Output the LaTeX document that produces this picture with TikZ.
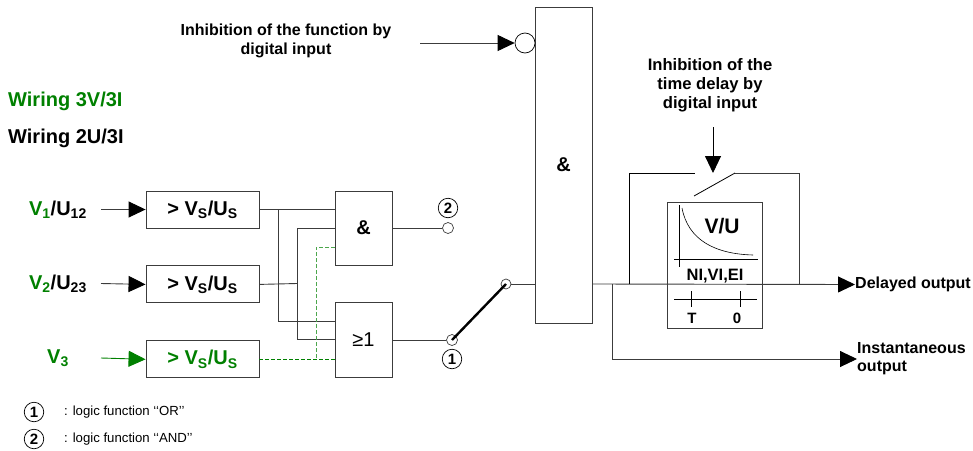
\documentclass[tikz,border=0pt]{standalone}
\usepackage{fontspec}
\setmainfont{Liberation Sans}
\usetikzlibrary{positioning, arrows.meta}
\definecolor{wirecol}{HTML}{3C3C3C}
\definecolor{vgreen}{HTML}{008000}

\begin{document}
\begin{tikzpicture}[
            x=1pt, y=-1pt,
            node distance=37pt and 76pt,
            box/.style={draw=wirecol, line width=0.9pt, minimum width=113pt, minimum height=37pt, inner sep=0pt, align=center, font=\fontsize{20}{22}\selectfont\bfseries},
            gate/.style={draw=wirecol, line width=0.9pt, minimum width=57pt, inner sep=0pt, align=center, font=\fontsize{20}{22}\selectfont\bfseries},
            dot/.style={draw=wirecol, circle, fill=white, line width=0.7pt, minimum size=11pt, inner sep=0pt},
            num/.style={draw=black, circle, line width=0.7pt, minimum size=19.5pt, inner sep=0pt, font=\fontsize{15}{15}\selectfont\bfseries},
            lbl/.style={font=\fontsize{16}{19}\selectfont\bfseries, align=center, inner sep=0pt},
            sig/.style={font=\fontsize{20}{22}\selectfont\bfseries, inner sep=0pt},
            small/.style={font=\fontsize{13.2}{15}\selectfont, anchor=west, inner sep=0pt},
            wire/.style={draw=wirecol, line width=0.9pt},
            arr/.style={wire, -{Triangle[length=17pt, width=16pt, black]}},
            greendash/.style={line width=1pt, dash pattern=on 4pt off 2pt}
        ]
            \useasboundingbox (0,0) rectangle (973,450);

            % Wiring titles
            \node[sig, anchor=west, text=vgreen] (wirea) at (8,101) {Wiring 3V/3I};
            \node[sig, anchor=west] (wireb) at (8,138) {Wiring 2U/3I};

            % Threshold boxes
            \node[box] (vsa) at (202.5,209.5) {> V\textsubscript{S}/U\textsubscript{S}};
            \node[box, below=of vsa] (vsb) {> V\textsubscript{S}/U\textsubscript{S}};
            \node[box, below=of vsb, text=vgreen] (vsc) {> V\textsubscript{S}/U\textsubscript{S}};

            % Inputs
            \node[sig, anchor=east] (va) at (87,210) {\textcolor{vgreen}{V\textsubscript{1}}/U\textsubscript{12}};
            \node[sig, anchor=east] (vb) at (87,284) {\textcolor{vgreen}{V\textsubscript{2}}/U\textsubscript{23}};
            \node[sig, text=vgreen] (vc) at (58,358) {V\textsubscript{3}};
            \coordinate (ina) at (101,209.5);
            \coordinate (inb) at (101,283.5);
            \coordinate (inc) at (101,358);
            \draw[arr] (ina) -- (vsa.west);
            \draw[arr] (inb) -- (vsb.west);
            \draw[draw=vgreen, line width=0.9pt, -{Triangle[length=17pt, width=16pt, vgreen]}] (inc) -- (vsc.west);

            % AND / OR gates
            \node[gate, minimum height=74pt] (andgate) at (363.5,228) {\&};
            \node[gate, minimum height=75pt] (orgate) at (363.5,339.5) {\mdseries ≥1};

            \coordinate (joina) at (278,209.5);
            \coordinate (joinb) at (297,283.5);
            \coordinate (joinc) at (316,358);
            \draw[wire] (vsa.east) -- (vsa.east -| andgate.west);
            \draw[wire] (vsb.east) -- (joinb);
            \draw[wire] (joina) |- (orgate.west |- 0,321);
            \draw[wire] (joinb |- andgate.west) -- (andgate.west);
            \draw[wire] (joinb |- andgate.west) -- (joinb |- orgate.west) -- (orgate.west);
            \draw[greendash, vgreen] (vsc.east) -- (vsc.east -| orgate.west);
            \draw[greendash, vgreen!70] (joinc) |- (andgate.west |- 0,247);

            % Selector
            \node[dot] (swand) at (448,228) {};
            \node[dot] (swor) at (452,340) {};
            \node[dot, minimum size=10pt] (swout) at (506,284) {};
            \node[num] (numb) at (448,208) {2};
            \node[num] (numa) at (452,359) {1};
            \draw[wire] (andgate.east |- swand) -- (swand);
            \draw[wire] (orgate.east |- swor) -- (swor);
            \draw[line width=2.4pt, black] (swor.center) -- (swout.center);

            % Main AND gate
            \node[gate, minimum height=316pt] (mainand) at (563.5,165) {\&};
            \node[draw=black, circle, line width=0.7pt, minimum size=20pt, inner sep=0pt] (inv) at (525,43) {};
            \coordinate (infunc) at (420,43);
            \node[lbl] (inhfunc) at (286,41) {Inhibition of the function by\\digital input};
            \draw[arr] (infunc) -- (inv.west);
            \draw[wire] (swout) -- (swout -| mainand.west);

            % Time delay block
            \node[draw=wirecol, line width=0.9pt, minimum width=95pt, minimum height=126pt, inner sep=0pt] (delay) at (714.5,265) {};
            \node[font=\fontsize{21}{23}\selectfont\bfseries, inner sep=0pt] (vu) at (722,226) {V/U};
            \node[font=\fontsize{16.5}{18}\selectfont\bfseries, inner sep=0pt] (curves) at (715,276) {NI,VI,EI};
            \node[font=\fontsize{15}{17}\selectfont\bfseries, inner sep=0pt] (tlabel) at (692,318) {T};
            \node[font=\fontsize{15}{17}\selectfont\bfseries, inner sep=0pt] (zlabel) at (737,318) {0};
            \draw[black, line width=1pt] (679,205) -- (679,267);
            \draw[black, line width=1pt] (674,259) -- (758,259);
            \draw[black, line width=0.6pt] (682,208) .. controls (688,240) and (715,254) .. (753,255);
            \draw[black, line width=1pt] (674,299) -- (757,299);
            \draw[black, line width=1pt] (691,291) -- (691,307);
            \draw[black, line width=1pt] (740,291) -- (740,307);

            % Outputs
            \node[lbl, anchor=west] (delayed) at (855,284.5) {Delayed output};
            \node[lbl, anchor=west, align=left, font=\fontsize{16}{18}\selectfont\bfseries] (instant) at (857,359) {Instantaneous\\output};
            \coordinate (joinout) at (612,284);
            \draw[arr] (mainand.east |- joinout) -- (delayed.west);
            \draw[arr] (joinout) |- (instant.west);

            % Bypass contact
            \coordinate (bypl) at (629,284);
            \coordinate (bypr) at (799,284);
            \coordinate (contl) at (695,173);
            \coordinate (contr) at (735,173);
            \draw[black, line width=0.8pt] (bypl) |- (contl);
            \draw[wire] (contr) -| (bypr);
            \draw[black, line width=0.8pt] (694,196) -- (contr);
            \node[lbl, font=\fontsize{16.6}{19}\selectfont\bfseries] (inhdelay) at (710,85) {Inhibition of the\\time delay by\\digital input};
            \coordinate (indelay) at (713,127);
            \draw[black, line width=0.9pt, -{Triangle[length=17pt, width=16pt]}] (indelay) -- (713,173);

            % Legend
            \node[num] (lega) at (34,412) {1};
            \node[num] (legb) at (34,439) {2};
            \node[small] (legatext) at (64,412) {: logic function ‘‘OR’’};
            \node[small] (legbtext) at (64,439) {: logic function ‘‘AND’’};
        \end{tikzpicture}
\end{document}
